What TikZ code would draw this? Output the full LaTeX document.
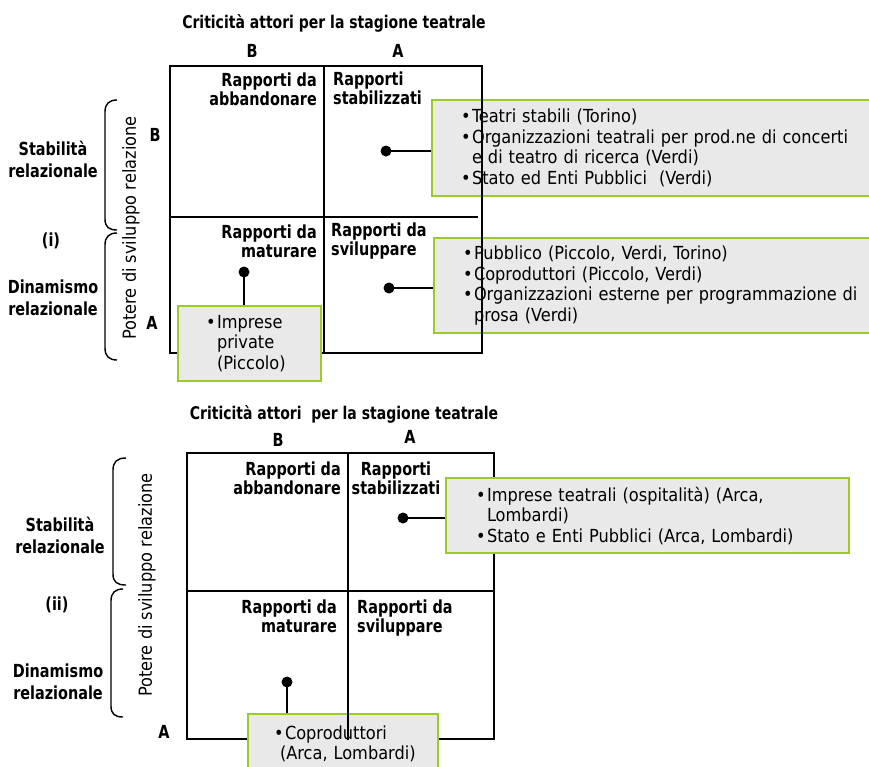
\documentclass[tikz,border=0pt]{standalone}
\usepackage{fontspec}
\setmainfont{DejaVu Sans Condensed}
\newfontfamily\lblfont{DejaVu Sans Condensed}[FakeStretch=0.89]
\definecolor{boxgreen}{RGB}{154,204,34}
\definecolor{boxgray}{RGB}{233,233,233}
\newcommand{\bul}[1]{\mbox{\makebox[11pt][l]{\textbullet}#1}}
\newcommand{\cont}[1]{\mbox{\hspace*{11pt}#1}}
\tikzset{
  matline/.style={line width=2pt, line cap=rect},
  bracepath/.style={line width=1.4pt},
  infobox/.style={draw=boxgreen, line width=2pt, fill=boxgray, align=left,
    font=\fontsize{18}{20.5}\selectfont, inner ysep=0pt, anchor=north west},
  lbl/.style={font=\fontsize{18}{19}\selectfont\lblfont\bfseries, inner sep=0pt},
  sidelbl/.style={font=\fontsize{18}{22}\selectfont\lblfont\bfseries, align=center, inner sep=0pt},
  axislbl/.style={font=\fontsize{18}{19}\selectfont, rotate=90, inner sep=0pt},
  titlelbl/.style={font=\fontsize{17.5}{19}\selectfont\lblfont\bfseries, inner sep=0pt},
  dotpt/.style={circle, fill=black, inner sep=0pt, minimum size=11pt},
}
\begin{document}
\begin{tikzpicture}[x=1pt, y=-1pt]
\useasboundingbox (0,0) rectangle (869,766);
\clip (0,0) rectangle (869,766);

% ---------------- upper matrix (i) ----------------
\node[titlelbl] (t1) at (334,23) {Criticità attori per la stagione teatrale};
\node[lbl] (t1b) at (252,51) {B};
\node[lbl] (t1a) at (398,51) {A};

\coordinate (m1nw) at (170,66);
\coordinate (m1ne) at (482,66);
\coordinate (m1sw) at (170,353);
\coordinate (m1se) at (482,353);
\draw[matline] (m1ne) -- (m1nw) -- (m1sw) -- (m1se);

\node[infobox, text width=420pt, inner xsep=29pt, minimum height=96pt] (b1) at (431,99)
  {\bul{Teatri stabili (Torino)}\\
   \bul{Organizzazioni teatrali per prod.ne di concerti}\\
   \cont{e di teatro di ricerca (Verdi)}\\
   \bul{Stato ed Enti Pubblici \ (Verdi)}};
\node[infobox, text width=420pt, inner xsep=29pt, minimum height=95pt] (b2) at (433,237)
  {\bul{Pubblico (Piccolo, Verdi, Torino)}\\
   \bul{Coproduttori (Piccolo, Verdi)}\\
   \bul{Organizzazioni esterne per programmazione di}\\
   \cont{prosa (Verdi)}};
\node[infobox, text width=87pt, inner xsep=28pt, minimum height=75pt] (b3) at (177,305)
  {\bul{Imprese}\\
   \cont{private}\\
   \cont{(Piccolo)}};

\draw[matline] (m1ne) -- (m1se);
\draw[matline] (324,66) -- (324,353);
\draw[matline] (170,217) -- (477,217);

\node[lbl, align=right, anchor=east] (q1a) at (317,89) {Rapporti da\\abbandonare};
\node[lbl, align=left, anchor=west] (q1b) at (333,88) {Rapporti\\stabilizzati};
\node[lbl, align=right, anchor=east] (q1c) at (317,241) {Rapporti da\\maturare};
\node[lbl, align=left, anchor=west] (q1d) at (331,241) {Rapporti da\\sviluppare};

\node[dotpt] (d1) at (386,151) {};
\node[dotpt] (d2) at (389,288) {};
\node[dotpt] (d3) at (244,272) {};
\draw[matline, line cap=butt] (d1.center) -- (d1.center -| b1.west);
\draw[matline, line cap=butt] (d2.center) -- (d2.center -| b2.west);
\draw[matline, line cap=butt] (d3.center) -- (d3.center |- b3.north);

\node[sidelbl] (s1) at (53,159) {Stabilità\\relazionale};
\node[sidelbl] (r1) at (51,241) {(i)};
\node[sidelbl] (s2) at (53,298) {Dinamismo\\relazionale};
\node[axislbl] (y1) at (131,228) {Potere di sviluppo relazione};
\node[lbl] (y1b) at (155,135) {B};
\node[lbl] (y1a) at (152,323) {A};

\draw[bracepath] (117,100) .. controls (109,100) and (105,104) .. (105,112)
  -- (105,219) .. controls (105,227) and (109,230) .. (117,230);
\draw[bracepath] (117,233) .. controls (109,233) and (105,237) .. (105,245)
  -- (105,348) .. controls (105,356) and (109,360) .. (117,360);

% ---------------- lower matrix (ii) ----------------
\node[titlelbl] (t2) at (344,414) {Criticità attori \ per la stagione teatrale};
\node[lbl] (t2b) at (278,440) {B};
\node[lbl] (t2a) at (410,437) {A};

\coordinate (m2nw) at (187,453);
\coordinate (m2ne) at (494,453);
\coordinate (m2sw) at (187,739);
\coordinate (m2se) at (494,739);
\draw[matline] (m2nw) rectangle (m2se);
\draw[matline] (187,591) -- (494,591);

\node[infobox, text width=343pt, inner xsep=30pt, minimum height=75pt] (b4) at (445,477)
  {\bul{Imprese teatrali (ospitalità) (Arca,}\\
   \cont{Lombardi)}\\
   \bul{Stato e Enti Pubblici (Arca, Lombardi)}};
\node[infobox, text width=138pt, inner xsep=26pt, minimum height=60pt] (b5) at (247,713)
  {\bul{Coproduttori}\\
   \mbox{\hspace*{6pt}(Arca, Lombardi)}};

\draw[matline] (348,453) -- (348,739);

\node[lbl, align=right, anchor=east] (q2a) at (341,478) {Rapporti da\\abbandonare};
\node[lbl, align=center] (q2b) at (396,478) {Rapporti\\stabilizzati};
\node[lbl, align=right, anchor=east] (q2c) at (337,616) {Rapporti da\\maturare};
\node[lbl, align=left, anchor=west] (q2d) at (357,618) {Rapporti da\\sviluppare};

\node[dotpt] (d4) at (403,518) {};
\node[dotpt] (d5) at (287,682) {};
\draw[matline, line cap=butt] (d4.center) -- (d4.center -| b4.west);
\draw[matline, line cap=butt] (d5.center) -- (d5.center |- b5.north);

\node[sidelbl] (s3) at (60,535) {Stabilità\\relazionale};
\node[sidelbl] (r2) at (57,605) {(ii)};
\node[sidelbl] (s4) at (58,682) {Dinamismo\\relazionale};
\node[axislbl] (y2) at (147,585) {Potere di sviluppo relazione};
\node[lbl] (y2a) at (164,732) {A};

\draw[bracepath] (126,458) .. controls (117,458) and (113,462) .. (113,470)
  -- (113,574) .. controls (113,582) and (117,585) .. (126,585);
\draw[bracepath] (123,589) .. controls (115,589) and (111,593) .. (111,601)
  -- (111,706) .. controls (111,714) and (115,717) .. (123,717);
\end{tikzpicture}
\end{document}
